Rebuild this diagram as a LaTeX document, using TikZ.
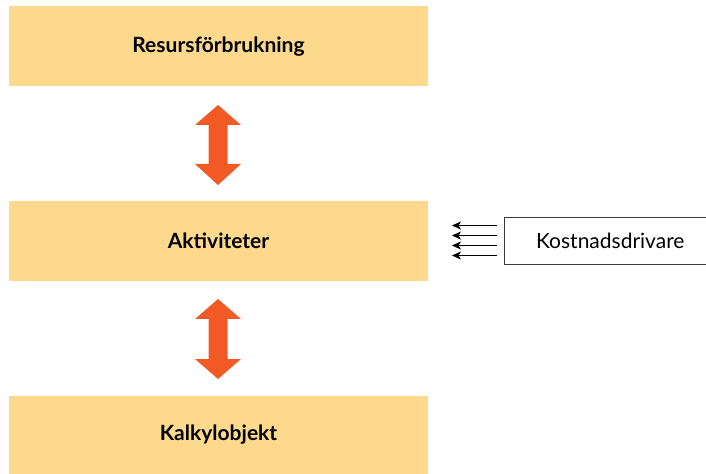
\documentclass[tikz,border=0pt]{standalone}
\usepackage{fontspec}
\setmainfont{Lato}
\usetikzlibrary{arrows.meta}
\definecolor{boxfill}{HTML}{FDD98E}
\definecolor{arrowred}{HTML}{F15A24}
\definecolor{framegray}{HTML}{3A3A3A}
\tikzset{
  level/.style={fill=boxfill, draw=none, minimum width=419bp, minimum height=80bp,
    inner sep=0pt, font=\fontsize{21bp}{24bp}\selectfont\bfseries},
  driver/.style={draw=framegray, line width=0.6bp, fill=white, minimum width=212bp,
    minimum height=47bp, anchor=west, inner sep=0pt, font=\fontsize{21bp}{24bp}\selectfont},
  feed/.style={line width=0.8bp, -{Stealth[length=9bp,width=8bp,inset=2.5bp]}},
}
\begin{document}
\begin{tikzpicture}[x=1bp,y=-1bp]
  \useasboundingbox (0,0) rectangle (706,474);
  \clip (0,0) rectangle (706,474);
  % three levels of the model
  \node[level] (res) at (218.5,46.5) {Resursförbrukning};
  \node[level] (akt) at (218.5,241) {Aktiviteter};
  \node[level, minimum height=78bp] (kal) at (218.5,435) {Kalkylobjekt};
  % double arrows between levels
  \coordinate (a1t) at (218,105);
  \coordinate (a1b) at (218,185);
  \coordinate (a2t) at (218,299);
  \coordinate (a2b) at (218,379);
  \fill[arrowred] (a1t) -- ++(23,20) -- ++(-13.5,0) -- ++(0,39) -- ++(13.5,0)
    -- (a1b) -- ++(-23,-21) -- ++(13.5,0) -- ++(0,-39) -- ++(-13.5,0) -- cycle;
  \fill[arrowred] (a2t) -- ++(23,20) -- ++(-13.5,0) -- ++(0,40) -- ++(13.5,0)
    -- (a2b) -- ++(-23,-20) -- ++(13.5,0) -- ++(0,-40) -- ++(-13.5,0) -- cycle;
  % cost drivers
  \node[driver] (kd) at (504,240.5) {Kostnadsdrivare};
  \foreach \yy [count=\i] in {225.5,235.5,245.5,255.5} {
    \coordinate (s\i) at (497,\yy);
    \coordinate (e\i) at (452,\yy);
    \draw[feed] (s\i) -- (e\i);
  }
\end{tikzpicture}
\end{document}
